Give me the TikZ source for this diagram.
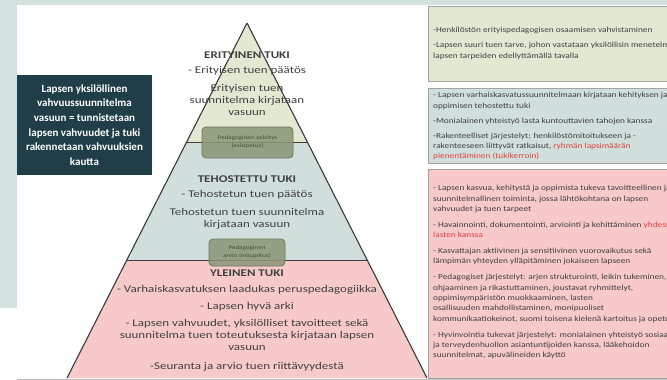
\documentclass[tikz,border=0pt]{standalone}
\usepackage{fontspec}
\setmainfont{Carlito}
\newfontfamily\pyrfont{Carlito}[FakeStretch=1.26]
\newfontfamily\sidefont{Carlito}[FakeStretch=1.19]
\usetikzlibrary{calc}

\definecolor{bggray}{HTML}{D3E1DF}
\definecolor{darkteal}{HTML}{1F3E48}
\definecolor{topfill}{HTML}{E3E8D2}
\definecolor{midfill}{HTML}{D0DFDC}
\definecolor{lowfill}{HTML}{F7C9C9}
\definecolor{pedfill}{HTML}{8A9676}
\definecolor{pedline}{HTML}{6A7658}
\definecolor{pedtxt}{HTML}{454D32}
\definecolor{boxline}{HTML}{A3A3A3}
\definecolor{txtgray}{HTML}{404040}
\definecolor{redtxt}{HTML}{E0403F}

\begin{document}
\begin{tikzpicture}[x=1pt,y=-1pt]

	\tikzset{
		heading/.style={font=\pyrfont\bfseries\fontsize{10.3}{12}\selectfont, text=txtgray, inner sep=0pt},
		pyrtext/.style={font=\pyrfont\fontsize{10.3}{12}\selectfont, align=center, text=txtgray, inner sep=0pt},
		pedbox/.style={draw=pedline, line width=0.8pt, fill=pedfill, fill opacity=0.85, text opacity=1,
			rounded corners=4pt, text=pedtxt, font=\pyrfont\fontsize{5.6}{8}\selectfont, align=center, inner sep=0pt},
		sidebox/.style={draw=boxline, line width=0.9pt},
		sidetext/.style={anchor=north west, font=\sidefont\fontsize{7.8}{10.4}\selectfont, align=left,
			text=txtgray, inner sep=0pt},
		leftbox/.style={fill=darkteal, text=white, font=\bfseries\fontsize{11}{14.6}\selectfont,
			align=center, minimum width=135pt, minimum height=100pt, inner sep=0pt}
	}
	\useasboundingbox (0,0) rectangle (667,380);
	\clip (0,0) rectangle (667,380);
	\fill[white] (0,0) rectangle (667,380);
	\fill[bggray] (0,0) rectangle (667,5);
	\fill[bggray] (0,0) rectangle (17,308);
	\draw[bggray!70!gray, line width=1pt] (17,379.5) -- (667,379.5);

	\node[leftbox] (lapsen) at (84.5,125) {Lapsen yksilöllinen\\vahvuussuunnitelma\\vasuun = tunnistetaan\\lapsen vahvuudet ja tuki\\rakennetaan vahvuuksien\\kautta};

	\coordinate (apex) at (247,23);
	\coordinate (bl) at (67,378);
	\coordinate (br) at (427,378);
	\coordinate (l1) at ($(apex)!0.3352!(bl)$);
	\coordinate (r1) at ($(apex)!0.3352!(br)$);
	\coordinate (l2) at ($(apex)!0.6676!(bl)$);
	\coordinate (r2) at ($(apex)!0.6676!(br)$);

	\fill[topfill] (apex) -- (l1) -- (r1) -- cycle;
	\fill[midfill] (l1) -- (l2) -- (r2) -- (r1) -- cycle;
	\fill[lowfill] (l2) -- (bl) -- (br) -- (r2) -- cycle;

	\node[heading] (eri) at (247,55) {ERITYINEN TUKI};
	\node[pyrtext] (eri1) at (247,71) {- Erityisen tuen päätös};
	\node[pyrtext] (eri2) at (247,100) {Erityisen tuen\\suunnitelma kirjataan\\vasuun};

	\node[heading] (teh) at (247,179) {TEHOSTETTU TUKI};
	\node[pyrtext] (teh1) at (247,195) {- Tehostetun tuen päätös};
	\node[pyrtext] (teh2) at (247,219) {Tehostetun tuen suunnitelma\\kirjataan vasuun};

	\node[heading] (yle) at (247,273) {YLEINEN TUKI};
	\node[pyrtext] (yle1) at (247,290) {- Varhaiskasvatuksen laadukas peruspedagogiikka};
	\node[pyrtext] (yle2) at (247,307) {- Lapsen hyvä arki};
	\node[pyrtext] (yle3) at (247,335) {- Lapsen vahvuudet, yksilölliset tavoitteet sekä\\suunnitelma tuen toteutuksesta kirjataan lapsen\\vasuun};
	\node[pyrtext] (yle4) at (247,367) {-Seuranta ja arvio tuen riittävyydestä};

	\draw[txtgray, line width=0.9pt] (l1) -- (r1);
	\draw[txtgray, line width=0.9pt] (l2) -- (r2);

	\node[pedbox, minimum width=91pt, minimum height=31pt] (selvitys) at (247.5,142.5) {Pedagoginen selvitys\\(esiopetus)};
	\node[pedbox, minimum width=76pt, minimum height=27pt] (arvio) at (247,252.5) {Pedagoginen\\arvio (esiopetus)};

	\draw[txtgray!90!black, line width=1.1pt] (apex) -- (bl) (apex) -- (br);

	\draw[sidebox, fill=topfill] (428,6) rectangle (690,81);
	\draw[sidebox, fill=midfill] (428,88) rectangle (690,163);
	\draw[sidebox, fill=lowfill] (428,169) rectangle (690,378);

	\node[sidetext] (erit) at (433,27) {-Henkilöstön erityispedagogisen osaamisen vahvistaminen\\[4.6pt]
		-Lapsen suuri tuen tarve, johon vastataan yksilöllisin menetelmin ja\\
		lapsen tarpeiden edellyttämällä tavalla};
	\node[sidetext] (tehos) at (433,92) {- Lapsen varhaiskasvatussuunnitelmaan kirjataan kehityksen ja\\
		oppimisen tehostettu tuki\\[4.6pt]
		-Monialainen yhteistyö lasta kuntouttavien tahojen kanssa\\[4.6pt]
		-Rakenteelliset järjestelyt: henkilöstömitoitukseen ja -\\
		rakenteeseen liittyvät ratkaisut, \textcolor{redtxt}{ryhmän lapsimäärän}\\
		\textcolor{redtxt}{pienentäminen (tukikerroin)}};
	\node[sidetext] (yleis) at (433,185) {- Lapsen kasvua, kehitystä ja oppimista tukeva tavoitteellinen ja\\
		suunnitelmallinen toiminta, jossa lähtökohtana on lapsen\\
		vahvuudet ja tuen tarpeet\\[5.4pt]
		- Havainnointi, dokumentointi, arviointi ja kehittäminen \textcolor{redtxt}{yhdessä}\\
		\textcolor{redtxt}{lasten kanssa}\\[5.4pt]
		- Kasvattajan aktiivinen ja sensitiivinen vuorovaikutus sekä\\
		lämpimän yhteyden ylläpitäminen jokaiseen lapseen\\[5.4pt]
		- Pedagogiset järjestelyt: arjen strukturointi, leikin tukeminen,\\
		ohjaaminen ja rikastuttaminen, joustavat ryhmittelyt,\\
		oppimisympäristön muokkaaminen, lasten\\
		osallisuuden mahdollistaminen, monipuoliset\\
		kommunikaatiokeinot, suomi toisena kielenä kartoitus ja opetus\\[5.4pt]
		- Hyvinvointia tukevat järjestelyt: monialainen yhteistyö sosiaali- ja\\
		ja terveydenhuollon asiantuntijoiden kanssa, lääkehoidon\\
		suunnitelmat, apuvälineiden käyttö};

\end{tikzpicture}
\end{document}
